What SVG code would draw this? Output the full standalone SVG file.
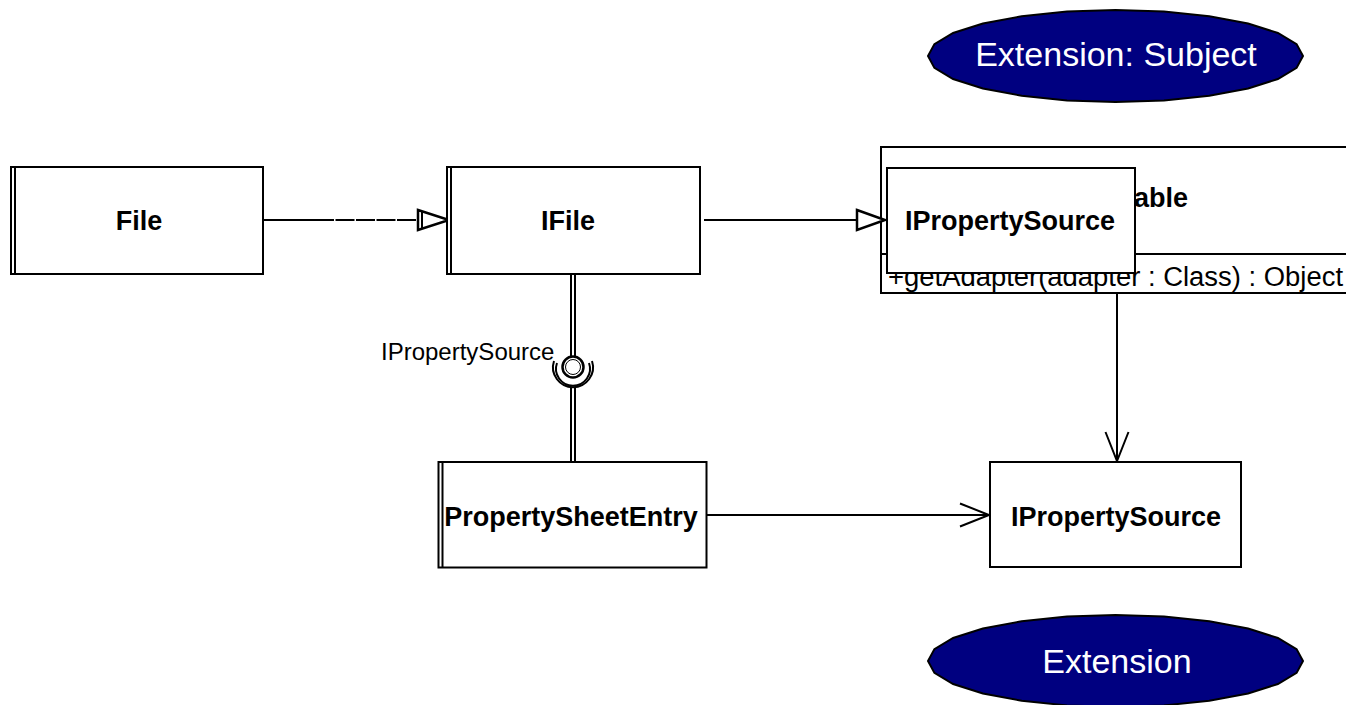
<svg xmlns="http://www.w3.org/2000/svg" width="1346" height="705" viewBox="0 0 1346 705">
  <style>
    .box { fill: #fff; stroke: #000; stroke-width: 2; }
    .rule { stroke: #000; stroke-width: 2; fill: none; }
    .edge { stroke: #000; stroke-width: 2; fill: none; }
    .dash { stroke-dasharray: 19 1.5; }
    .name { font-family: "Liberation Sans", Arial, Helvetica, sans-serif; font-weight: bold; font-size: 27px; fill: #000; text-anchor: middle; }
    .member { font-family: "Liberation Sans", Arial, Helvetica, sans-serif; font-size: 27px; fill: #000; }
    .label { font-family: "Liberation Sans", Arial, Helvetica, sans-serif; font-size: 24px; fill: #000; }
    .oval { fill: #000080; stroke: #000; stroke-width: 2; }
    .oval-text { font-family: "Liberation Sans", Arial, Helvetica, sans-serif; font-size: 34px; fill: #fff; text-anchor: middle; }
  </style>
  <defs>
    <!-- faceted oval used for the extension badges -->
    <polygon id="badge" class="oval" points="187.5,0 181.1,11.9 162.4,23 132.6,32.5 93.8,39.8 48.5,44.4 0,46 -48.5,44.4 -93.8,39.8 -132.6,32.5 -162.4,23 -181.1,11.9 -187.5,0 -181.1,-11.9 -162.4,-23 -132.6,-32.5 -93.8,-39.8 -48.5,-44.4 0,-46 48.5,-44.4 93.8,-39.8 132.6,-32.5 162.4,-23 181.1,-11.9"/>
    <!-- hollow triangle with a doubled back edge (realization) -->
    <marker id="realize" markerUnits="userSpaceOnUse" markerWidth="36" markerHeight="26" refX="32" refY="12" orient="auto" overflow="visible">
      <path d="M1,2 L32,12 L1,22 Z" fill="#fff" stroke="#000" stroke-width="2.5"/>
      <path d="M5,4 L5,20" stroke="#000" stroke-width="2"/>
    </marker>
    <!-- hollow triangle (generalization) -->
    <marker id="generalize" markerUnits="userSpaceOnUse" markerWidth="36" markerHeight="26" refX="29" refY="12" orient="auto" overflow="visible">
      <path d="M1,2 L29,12 L1,22 Z" fill="#fff" stroke="#000" stroke-width="2.5"/>
    </marker>
    <!-- open V arrowhead (dependency / navigation) -->
    <marker id="open" markerUnits="userSpaceOnUse" markerWidth="32" markerHeight="26" refX="29" refY="11.5" orient="auto" overflow="visible">
      <path d="M0,0 L29,11.5 L0,23" fill="none" stroke="#000" stroke-width="2"/>
    </marker>
  </defs>

  <rect width="1346" height="705" fill="#fff"/>

  <!-- extension badges -->
  <g id="badge-subject">
    <use href="#badge" x="1115.5" y="56"/>
    <text class="oval-text" x="1116" y="66">Extension: Subject</text>
  </g>
  <g id="badge-extension">
    <use href="#badge" x="1115.5" y="661"/>
    <text class="oval-text" x="1117" y="673">Extension</text>
  </g>

  <!-- IAdaptable (partly hidden behind IPropertySource) -->
  <g id="iadaptable">
    <rect class="box" x="881" y="147" width="480" height="146"/>
    <line class="rule" x1="881" y1="254" x2="1361" y2="254"/>
    <text class="name" x="1050" y="207" style="text-anchor:start">IAdaptable</text>
    <text class="member" x="888" y="286" textLength="455" lengthAdjust="spacingAndGlyphs">+getAdapter(adapter : Class) : Object</text>
  </g>

  <!-- connectors -->
  <g id="connectors">
    <line class="edge" x1="263" y1="220" x2="315" y2="220"/>
    <line class="edge dash" x1="315" y1="220" x2="449" y2="220" marker-end="url(#realize)"/>
    <line class="edge" x1="704" y1="220" x2="885" y2="220" marker-end="url(#generalize)"/>
    <line class="edge" x1="1117" y1="293" x2="1117" y2="461" marker-end="url(#open)"/>
    <line class="edge" x1="707" y1="515" x2="989" y2="515" marker-end="url(#open)"/>
    <!-- provided / required interface link -->
    <line class="edge" x1="571" y1="274" x2="571" y2="357"/>
    <line class="edge" x1="575" y1="274" x2="575" y2="357"/>
    <line class="edge" x1="571" y1="387" x2="571" y2="462"/>
    <line class="edge" x1="575" y1="387" x2="575" y2="462"/>
    <path class="edge" d="M557,363 A17,17 0 1 0 589,363"/>
    <path class="edge" d="M554,361 A20,20 0 1 0 592,361" stroke-width="1.5"/>
    <circle cx="573" cy="367" r="10.5" fill="#fff" stroke="#000" stroke-width="2.5"/>
    <circle cx="573" cy="367" r="7.5" fill="none" stroke="#000" stroke-width="1"/>
    <text class="label" x="381" y="360">IPropertySource</text>
  </g>

  <g id="file">
    <rect class="box" x="11" y="167" width="252" height="107"/>
    <line class="rule" x1="15" y1="167" x2="15" y2="274"/>
    <text class="name" x="139" y="230">File</text>
  </g>

  <g id="ifile">
    <rect class="box" x="447" y="167" width="253" height="107"/>
    <line class="rule" x1="451" y1="167" x2="451" y2="274"/>
    <text class="name" x="568" y="230">IFile</text>
  </g>

  <g id="ipropertysource-top">
    <rect class="box" x="887" y="168" width="248" height="105"/>
    <text class="name" x="1010" y="230">IPropertySource</text>
  </g>

  <g id="propertysheetentry">
    <rect class="box" x="438.5" y="462" width="268" height="105.5"/>
    <line class="rule" x1="442.5" y1="462" x2="442.5" y2="567.5"/>
    <text class="name" x="571" y="526">PropertySheetEntry</text>
  </g>

  <g id="ipropertysource">
    <rect class="box" x="990" y="462" width="251" height="105"/>
    <text class="name" x="1116" y="526">IPropertySource</text>
  </g>
</svg>
